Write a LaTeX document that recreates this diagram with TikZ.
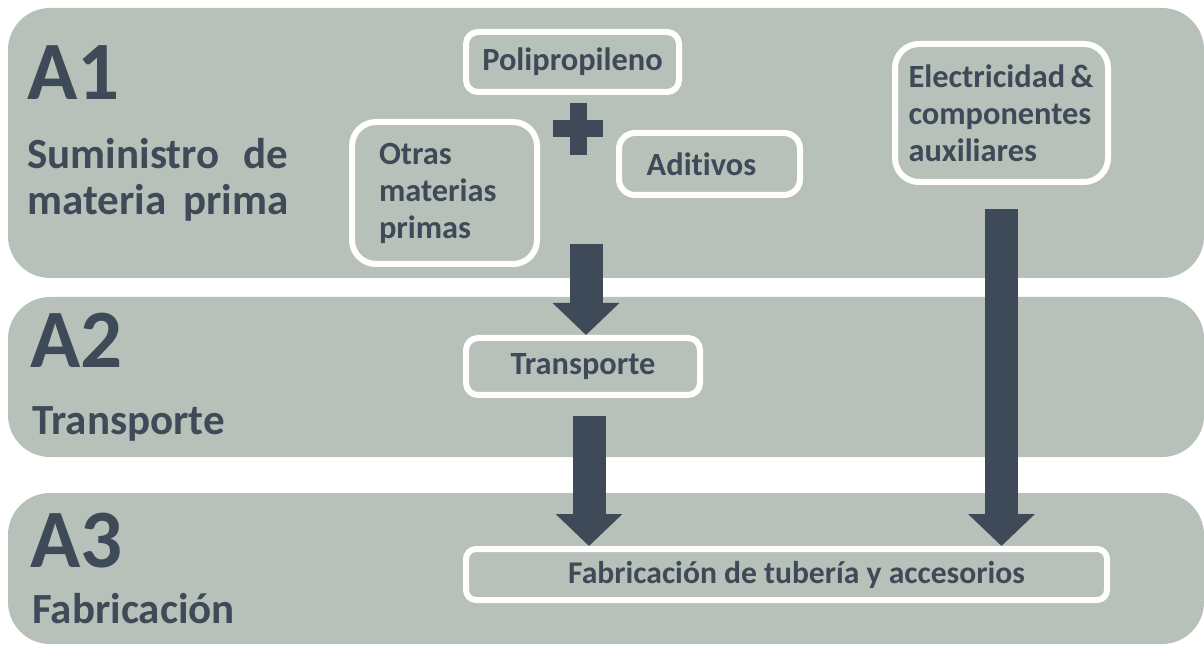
\documentclass[tikz,border=0pt]{standalone}
\usepackage{fontspec}
\setmainfont{Carlito}[Ligatures=NoCommon]
\usepackage{tikz}
\definecolor{bandGray}{HTML}{B7C1B9}
\definecolor{slateDark}{HTML}{3E4A57}
\usetikzlibrary{calc}
\usetikzlibrary{arrows.meta}

\tikzset{
  stagebox/.style={draw=white, line width=3pt, fill=bandGray, text=slateDark, inner sep=0pt,
    font=\bfseries\fontsize{16.2}{18.5}\selectfont},
  bigtag/.style={anchor=base west, inner sep=0pt, text=slateDark, font=\bfseries\fontsize{41.5}{41.5}\selectfont},
  subtag/.style={anchor=base west, inner sep=0pt, text=slateDark, font=\bfseries\fontsize{21.5}{23}\selectfont},
  flow/.style={draw=slateDark, line width=16.5pt, -{Triangle[width=32.5pt, length=16pt]}},
}

\begin{document}
\begin{tikzpicture}[x=0.5pt, y=-0.5pt]
  \useasboundingbox (0,0) rectangle (1204,646);

  % stage bands
  \fill[bandGray, rounded corners=21pt] (8,8) rectangle (1204,278);
  \fill[bandGray, rounded corners=21pt] (8,297) rectangle (1204,457);
  \fill[bandGray, rounded corners=21pt] (8,493) rectangle (1204,644);

  \node[bigtag] (a1) at (27,100) {A1};
  \node[subtag] (a1l1) at (27,169) {\makebox[130.5pt][s]{Suministro de}};
  \node[subtag] (a1l2) at (27,215) {\makebox[130.5pt][s]{materia prima}};
  \node[bigtag] (a2) at (30,368) {A2};
  \node[subtag] (a2l1) at (32,435) {Transporte};
  \node[bigtag] (a3) at (30,567) {A3};
  \node[subtag] (a3l1) at (32,623) {Fabricación};

  % boxes
  \node[stagebox, rounded corners=6pt, minimum width=106.5pt, minimum height=30pt] (poli) at (572.5,62) {Polipropileno};
  \node[stagebox, rounded corners=12pt, minimum width=92.5pt, minimum height=71pt,
        text width=65.5pt, align=left, inner xsep=13.5pt] (otras) at (444.5,193) {Otras\\materias\\primas};
  \node[stagebox, rounded corners=8pt, minimum width=90.5pt, minimum height=31pt] (adit) at (709.5,164) {\hspace*{-8pt}Aditivos};
  \node[stagebox, rounded corners=12pt, minimum width=106.5pt, minimum height=69pt,
        text width=93pt, align=left] (elec) at (1001.5,113) {Electricidad\,\&\\componentes\\auxiliares};
  \node[stagebox, rounded corners=6pt, minimum width=117pt, minimum height=28.5pt] (transp) at (583,366.5) {Transporte};
  \node[stagebox, rounded corners=5pt, minimum width=320.5pt, minimum height=25.5pt,
        font=\bfseries\fontsize{15.8}{18}\selectfont] (fab) at (786.5,574.5) {\hspace*{10pt}Fabricación de tubería y accesorios};

  % plus sign
  \draw[slateDark, line width=8.5pt, line join=round] (578,103) -- (578,155) (553,129) -- (603,129);

  % arrows
  \coordinate (mix) at (586,244);
  \draw[flow] (mix) -- (mix |- transp.north);
  \draw[flow] ($(transp.south)+(6,18)$) coordinate (s2) -- (s2 |- fab.north);
  \draw[flow] ($(elec.south)+(0,24)$) coordinate (s3) -- (s3 |- fab.north);
\end{tikzpicture}
\end{document}
